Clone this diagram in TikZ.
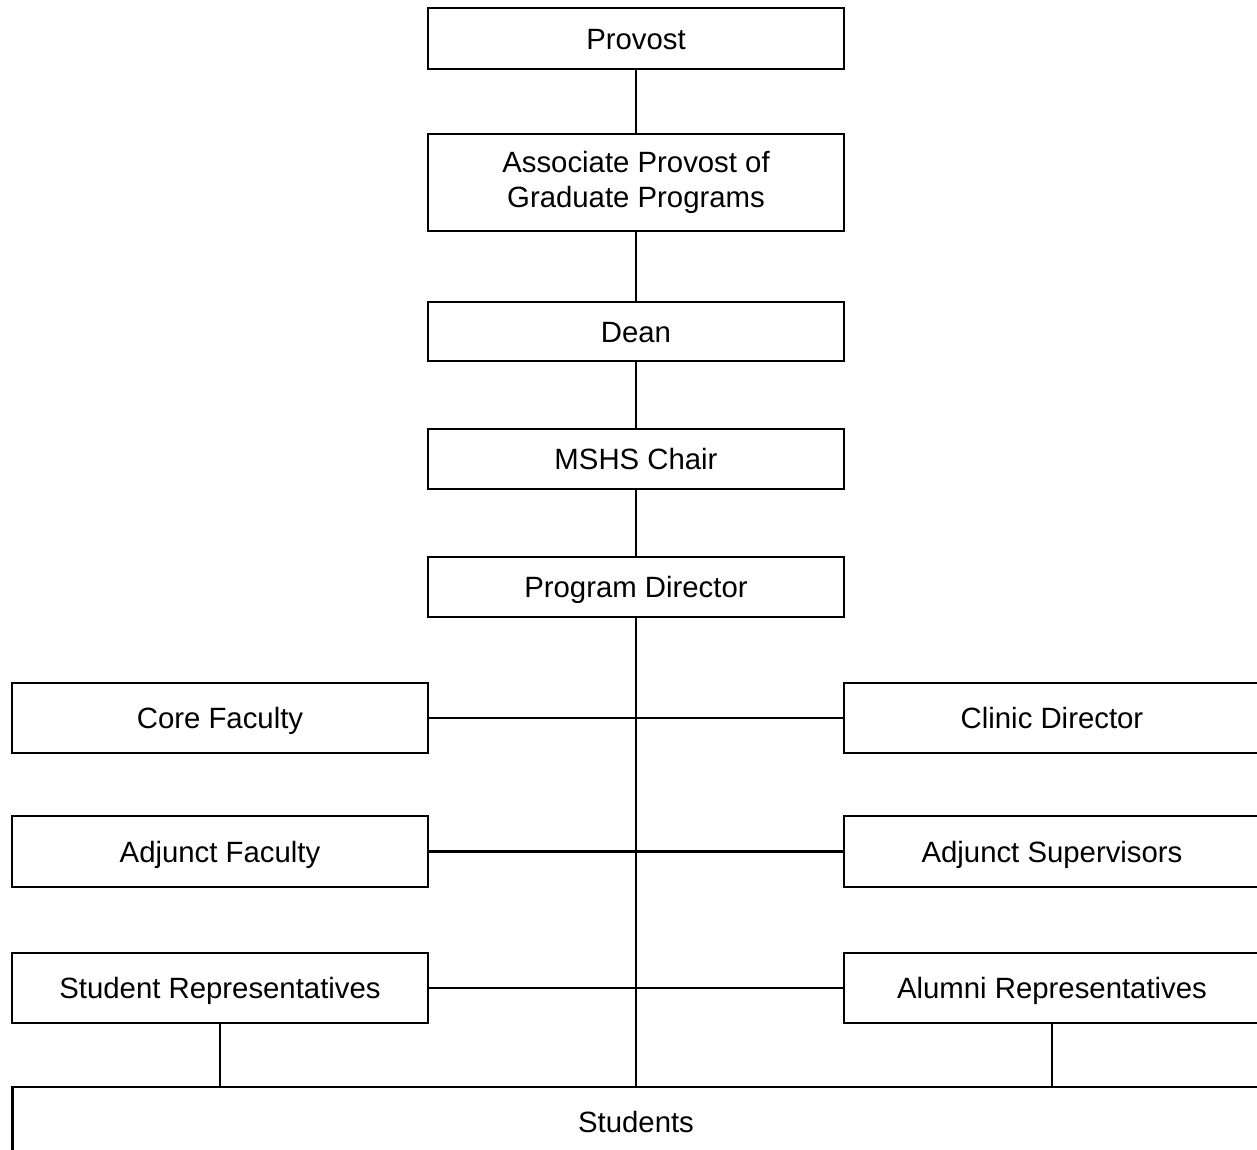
\documentclass[tikz,border=0pt]{standalone}
\usepackage{fontspec}
\setmainfont{Liberation Sans}
\usepackage{xcolor}
\usepackage{tikz}
\usetikzlibrary{calc}
\definecolor{ink}{HTML}{000000}
\tikzset{
  line/.style={draw=ink, line width=1.6pt},
  box/.style={draw=ink, line width=1.6pt, rectangle, minimum width=8.32cm, align=center, inner sep=0pt, font=\fontsize{16.7}{20}\selectfont},
  tag/.style={box, text height=15pt, text depth=3pt},
  wide/.style={tag, minimum width=24.96cm}
}

\begin{document}
\begin{tikzpicture}[x=0.02cm, y=-0.02cm]
  \clip (0,0) rectangle (1257,1149);

  \node[tag, minimum height=1.22cm] (provost) at (636,38.5) {Provost};
  \node[box, minimum height=1.94cm] (assoc) at (636,182.5) {Associate Provost of\\Graduate Programs};
  \node[tag, minimum height=1.18cm] (dean) at (636,331.5) {Dean};
  \node[tag, minimum height=1.2cm] (chair) at (636,459) {MSHS Chair};
  \node[tag, minimum height=1.2cm] (director) at (636,587) {Program Director};

  \node[tag, minimum height=1.4cm] (core) at (220,718) {Core Faculty};
  \node[tag, minimum height=1.4cm] (clinic) at (1052,718) {Clinic Director};
  \node[tag, minimum height=1.42cm] (adjfac) at (220,851.5) {Adjunct Faculty};
  \node[tag, minimum height=1.42cm] (adjsup) at (1052,851.5) {Adjunct Supervisors};
  \node[tag, minimum height=1.4cm] (studrep) at (220,988) {Student Representatives};
  \node[tag, minimum height=1.4cm] (alumrep) at (1052,988) {Alumni Representatives};

  \node[wide, minimum height=1.4cm] (students) at (636,1122) {Students};

  % chain down the middle
  \draw[line] (provost) -- (assoc);
  \draw[line] (assoc) -- (dean);
  \draw[line] (dean) -- (chair);
  \draw[line] (chair) -- (director);
  \draw[line] (director) -- (students);

  % side links
  \draw[line] (core) -- (clinic);
  \draw[line] (adjfac) -- (adjsup);
  \draw[line] (studrep) -- (alumrep);
  \draw[line] (studrep) -- (studrep |- students.north);
  \draw[line] (alumrep) -- (alumrep |- students.north);
\end{tikzpicture}
\end{document}
